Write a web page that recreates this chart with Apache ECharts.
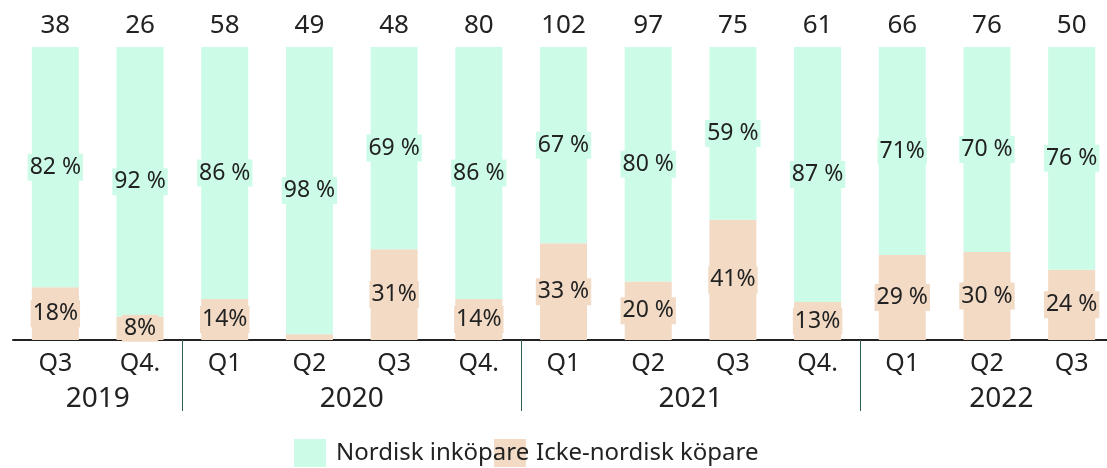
<!DOCTYPE html>
<html lang="sv">
    <head>
        <meta charset="UTF-8" />
        <title>Nordisk och icke-nordisk köpare</title>
        <script src="https://cdn.jsdelivr.net/npm/echarts@6/dist/echarts.min.js"></script>
        <style>
            html, body { margin: 0; padding: 0; background: #fff; overflow: hidden; }
            #chart { width: 1114px; height: 468px; }
        </style>
    </head>
    <body>
        <div id="chart"></div>
        <script>
            // kvartal och antal affärer
            var quarters = ['Q3', 'Q4.', 'Q1', 'Q2', 'Q3', 'Q4.', 'Q1', 'Q2', 'Q3', 'Q4.', 'Q1', 'Q2', 'Q3'];
            var counts = ['38', '26', '58', '49', '48', '80', '102', '97', '75', '61', '66', '76', '50'];

            // andelar i procent
            var nordic = [82, 92, 86, 98, 69, 86, 67, 80, 59, 87, 71, 70, 76];
            var nonNordic = [18, 8, 14, 2, 31, 14, 33, 20, 41, 13, 29, 30, 24];

            // etiketterna som de står i originalet
            var nordicLabels = ['82 %', '92 %', '86 %', '98 %', '69 %', '86 %', '67 %', '80 %', '59 %', '87 %', '71%', '70 %', '76 %'];
            var nonNordicLabels = ['18%', '8%', '14%', '', '31%', '14%', '33 %', '20 %', '41%', '13%', '29 %', '30 %', '24 %'];

            // år och var etiketten står (kategoriindex)
            var years = ['2019', '2020', '2021', '2022'];
            var yearPos = [0.5, 3.5, 7.5, 11.17];
            var yearStarts = [2, 6, 10]; // avdelare före dessa kategorier

            var green = '#ccfce8';
            var peach = '#f2dac5';
            var font = 'Noto Sans';
            var textColor = '#222';

            var chart = echarts.init(document.getElementById('chart'));

            function pctLabel(arr, bg) {
                return {
                    show: true,
                    position: 'inside',
                    fontFamily: font,
                    fontSize: 23,
                    color: textColor,
                    backgroundColor: bg,
                    padding: [3, 2, 1, 2],
                    formatter: function (p) {
                        return arr[p.dataIndex];
                    }
                };
            }

            function legendFor(name, left, z) {
                return {
                    data: [name],
                    left: left,
                    top: 439,
                    padding: 0,
                    z: z,
                    icon: 'rect',
                    itemWidth: 32,
                    itemHeight: 28,
                    textStyle: { fontFamily: font, fontSize: 24, color: textColor, padding: [0, 0, 0, 5] }
                };
            }

            chart.setOption({
                animation: false,
                grid: { left: 13, top: 47, right: 0, height: 293 },
                xAxis: [
                    {
                        type: 'category',
                        data: quarters,
                        position: 'bottom',
                        axisLine: { lineStyle: { color: textColor, width: 2 } },
                        axisTick: {
                            show: true,
                            length: 71,
                            interval: function (index) {
                                return yearStarts.indexOf(index) >= 0;
                            },
                            lineStyle: { color: '#2f5f55', width: 1 }
                        },
                        axisLabel: { fontFamily: font, fontSize: 25, color: textColor, margin: 11 }
                    },
                    {
                        type: 'category',
                        data: counts,
                        position: 'top',
                        axisLine: { show: false },
                        axisTick: { show: false },
                        axisLabel: { fontFamily: font, fontSize: 26, color: textColor, margin: 8 }
                    }
                ],
                yAxis: { type: 'value', min: 0, max: 100, show: false },
                legend: [legendFor('Nordisk inköpare', 294, 4), legendFor('Icke-nordisk köpare', 494, 3)],
                series: [
                    {
                        name: 'Icke-nordisk köpare',
                        type: 'bar',
                        stack: 'total',
                        barWidth: 47,
                        data: nonNordic,
                        itemStyle: { color: peach },
                        label: pctLabel(nonNordicLabels, peach)
                    },
                    {
                        name: 'Nordisk inköpare',
                        type: 'bar',
                        stack: 'total',
                        barWidth: 47,
                        data: nordic,
                        itemStyle: { color: green },
                        label: pctLabel(nordicLabels, green)
                    }
                ]
            });

            // årsetiketter under kvartalen
            var x0 = chart.convertToPixel({ xAxisIndex: 0 }, 0);
            var x1 = chart.convertToPixel({ xAxisIndex: 0 }, 1);
            var band = x1 - x0;
            chart.setOption({
                graphic: years.map(function (y, i) {
                    return {
                        type: 'text',
                        x: x0 + yearPos[i] * band,
                        y: 399,
                        style: {
                            text: y,
                            fontFamily: font,
                            fontSize: 28,
                            fill: textColor,
                            align: 'center',
                            verticalAlign: 'middle'
                        }
                    };
                })
            });

            window.addEventListener('resize', function () {
                chart.resize();
            });
        </script>
    </body>
</html>
